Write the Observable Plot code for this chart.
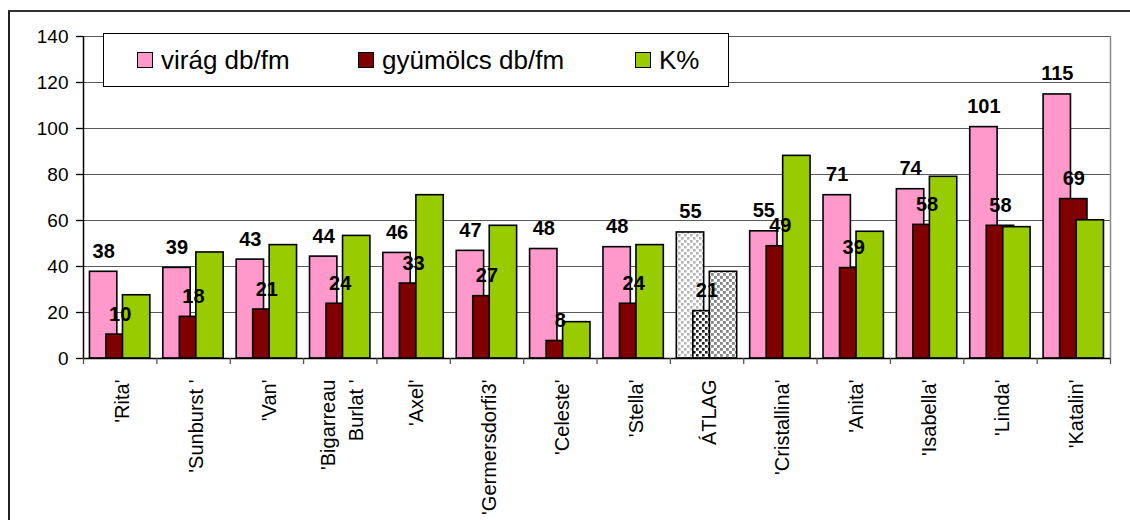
<!DOCTYPE html>
<html>
<head>
<meta charset="utf-8">
<script src="https://cdn.jsdelivr.net/npm/d3@7"></script>
<script src="https://cdn.jsdelivr.net/npm/@observablehq/plot@0.6"></script>
<style>
  html, body { margin: 0; padding: 0; background: #fff; }
  #wrap { position: relative; width: 1130px; height: 520px; overflow: hidden; font-family: "Liberation Sans", Arial, sans-serif; }
  #frame { position: absolute; left: 8px; top: 10px; width: 1200px; height: 600px; border-left: 2px solid #222; border-top: 2px solid #333; pointer-events: none; }
  #legend { position: absolute; left: 103px; top: 33px; width: 624px; height: 52px; background: #fff; border: 1px solid #000; }
  .item { position: absolute; top: 0; height: 52px; display: flex; align-items: center; font-size: 26px; color: #000; white-space: nowrap; }
  .sw { width: 14px; height: 14px; border: 1px solid #000; margin-right: 8px; }
</style>
</head>
<body>
<div id="wrap">
  <div id="chart"></div>
  <div id="frame"></div>
  <div id="legend"></div>
</div>
<script>
const categories = ["'Rita'", "'Sunburst '", "'Van'", "'Bigarreau\nBurlat '", "'Axel'", "'Germersdorfi3'", "'Celeste'", "'Stella'", "ÁTLAG", "'Cristallina'", "'Anita'", "'Isabella'", "'Linda'", "'Katalin'"];
const virag    = [37.7, 39.4, 43.0, 44.3, 45.9, 46.8, 47.6, 48.4, 54.8, 55.3, 71.0, 73.6, 100.6, 114.8];
const gyumolcs = [10.4, 18.1, 21.3, 23.8, 32.6, 27.1, 7.6, 23.8, 20.6, 48.8, 39.3, 58.1, 57.7, 69.3];
const kszazalek = [27.5, 46.1, 49.3, 53.3, 71.0, 57.7, 15.8, 49.3, 37.7, 88.1, 55.1, 79.0, 57.1, 60.1];
const yTicks = [0, 20, 40, 60, 80, 100, 120, 140];
const seriesNames = ["virág db/fm", "gyümölcs db/fm", "K%"];
const seriesColors = ["#FF99CC", "#800000", "#99CC00"];
const avgPatterns = ["url(#patPink)", "url(#patDark)", "url(#patGreen)"];
const avgName = "ÁTLAG";

const rows = categories.map((c, i) => ({i, cat: c, v: [virag[i], gyumolcs[i], kszazalek[i]]}));

// layout of the three overlapping bars within a category band (fractions of band)
const barW = 0.373, barStart = 0.088, barStep = 0.225;
const x1 = s => d => d.i + barStart + s * barStep;
const x2 = s => d => d.i + barStart + s * barStep + barW;
const xc = s => d => d.i + barStart + s * barStep + barW / 2;
const fmt = d3.format(".0f");

function barsFor(s) {
  return Plot.rectY(rows, {
    x1: x1(s), x2: x2(s), y1: 0, y2: d => d.v[s],
    fill: d => d.cat === avgName ? avgPatterns[s] : seriesColors[s],
    stroke: "#000", strokeWidth: 1.6
  });
}
function labelsFor(s) {
  return Plot.text(rows, {
    x: xc(s), y: d => d.v[s], text: d => fmt(d.v[s]),
    dy: -14, lineAnchor: "bottom", fontWeight: "bold", fontSize: 20, fill: "#000"
  });
}

const chart = Plot.plot({
  width: 1130, height: 520,
  marginLeft: 83, marginRight: 20, marginTop: 36, marginBottom: 162,
  style: {fontFamily: "'Liberation Sans', Arial, sans-serif", background: "transparent", overflow: "visible"},
  x: {type: "linear", domain: [0, categories.length], axis: null},
  y: {domain: [0, 140], axis: null},
  color: {type: "identity"},
  marks: [
    Plot.ruleY(yTicks.filter(v => v > 0), {stroke: "#5a5a5a", strokeWidth: 1.2}),
    Plot.ruleX([categories.length], {stroke: "#8a8a8a", strokeWidth: 1.5}),
    barsFor(0), barsFor(1), barsFor(2),
    labelsFor(0), labelsFor(1),
    Plot.ruleX([0], {stroke: "#000", strokeWidth: 1.5}),
    Plot.ruleY([0], {stroke: "#000", strokeWidth: 1.5}),
    Plot.axisY({ticks: yTicks, tickSize: 7, tickPadding: 8, fontSize: 19, label: null, stroke: "#000", strokeWidth: 1.3}),
    Plot.axisX({ticks: d3.range(categories.length + 1), tickFormat: () => "", tickSize: 6, label: null, stroke: "#555", strokeWidth: 1.3}),
    Plot.text(categories, {
      x: (d, i) => i + 0.5, y: () => 0, text: d => d,
      rotate: -90, textAnchor: "end", dy: 21, fontSize: 20, lineHeight: 1.4, fill: "#000"
    })
  ]
});

// patterns for the average (ÁTLAG) bars
const svgSel = d3.select(chart);
const defs = svgSel.insert("defs", ":first-child");
function addPattern(id, color, size) {
  const p = defs.append("pattern").attr("id", id).attr("patternUnits", "userSpaceOnUse")
    .attr("width", 6).attr("height", 6);
  p.append("rect").attr("width", 6).attr("height", 6).attr("fill", "#fff");
  p.append("rect").attr("x", 0).attr("y", 0).attr("width", size).attr("height", size).attr("fill", color);
  p.append("rect").attr("x", 3).attr("y", 3).attr("width", size).attr("height", size).attr("fill", color);
}
addPattern("patPink", "#b4b4b4", 2.6);
addPattern("patDark", "#1e1e1e", 2.6);
addPattern("patGreen", "#858585", 2.8);

document.getElementById("chart").appendChild(chart);

// legend
const legend = document.getElementById("legend");
const legendPos = [33, 254, 531];
seriesNames.forEach((name, s) => {
  const it = document.createElement("div");
  it.className = "item";
  it.style.left = legendPos[s] + "px";
  const sw = document.createElement("div");
  sw.className = "sw";
  sw.style.background = seriesColors[s];
  it.appendChild(sw);
  it.appendChild(document.createTextNode(name));
  legend.appendChild(it);
});
</script>
</body>
</html>
